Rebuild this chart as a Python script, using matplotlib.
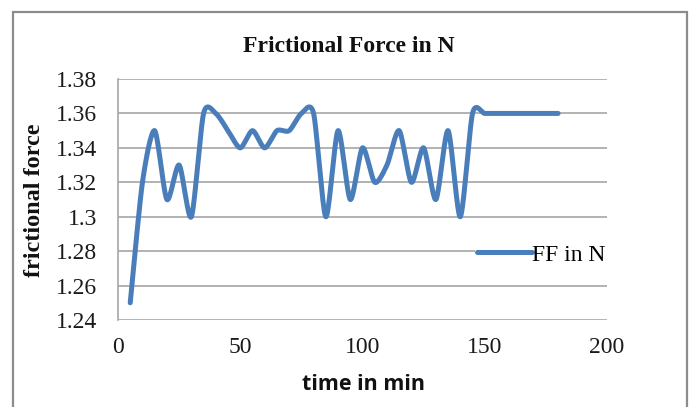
import numpy as np
import matplotlib
matplotlib.use("Agg")
import matplotlib.pyplot as plt
from matplotlib.patches import Rectangle

# Frictional force readings, one every 5 minutes
time_min = [5, 10, 15, 20, 25, 30, 35, 40, 45, 50, 55, 60, 65, 70, 75, 80, 85, 90,
            95, 100, 105, 110, 115, 120, 125, 130, 135, 140, 145, 150, 155, 160,
            165, 170, 175, 180]
ff_n = [1.25, 1.32, 1.35, 1.31, 1.33, 1.30, 1.36, 1.36, 1.35, 1.34, 1.35, 1.34,
        1.35, 1.35, 1.36, 1.36, 1.30, 1.35, 1.31, 1.34, 1.32, 1.33, 1.35, 1.32,
        1.34, 1.31, 1.35, 1.30, 1.36, 1.36, 1.36, 1.36, 1.36, 1.36, 1.36, 1.36]
x_ticks = [0, 50, 100, 150, 200]
y_ticks = [1.24, 1.26, 1.28, 1.30, 1.32, 1.34, 1.36, 1.38]
y_tick_labels = ["1.24", "1.26", "1.28", "1.3", "1.32", "1.34", "1.36", "1.38"]


def smooth_curve(x, y, k=0.13, n=40):
    """Cubic Bezier smoothing through every point (cardinal-spline tangents)."""
    x = np.asarray(x, float)
    y = np.asarray(y, float)
    px = np.concatenate([[x[0]], x, [x[-1]]])
    py = np.concatenate([[y[0]], y, [y[-1]]])
    t = np.linspace(0, 1, n)[:, None]
    xs, ys = [], []
    for i in range(len(x) - 1):
        p0 = np.array([px[i + 1], py[i + 1]])
        p3 = np.array([px[i + 2], py[i + 2]])
        p1 = p0 + (p3 - np.array([px[i], py[i]])) * k
        p2 = p3 - (np.array([px[i + 3], py[i + 3]]) - p0) * k
        b = ((1 - t) ** 3) * p0 + 3 * ((1 - t) ** 2) * t * p1 \
            + 3 * (1 - t) * t ** 2 * p2 + t ** 3 * p3
        xs.append(b[:, 0])
        ys.append(b[:, 1])
    return np.concatenate(xs), np.concatenate(ys)


W, H = 691, 407
fig = plt.figure(figsize=(W / 100, H / 100), dpi=100)

# outer chart frame
fig.patches.append(Rectangle((13 / W, -0.05), (687 - 13) / W, (H - 12) / H + 0.05,
                             transform=fig.transFigure, fill=False,
                             edgecolor="#8c8c8c", linewidth=1.6))

ax = fig.add_axes([118 / W, (H - 320) / H, (607 - 118) / W, (320 - 79) / H])
ax.set_xlim(0, 200)
ax.set_ylim(1.24, 1.38)

grid_col = "#a6a6a6"
for yv in y_ticks:
    ax.axhline(yv, color=grid_col, linewidth=1.2, zorder=1)
for s in ["top", "right", "bottom"]:
    ax.spines[s].set_visible(False)
ax.spines["left"].set_color(grid_col)
ax.spines["left"].set_linewidth(1.2)

sx, sy = smooth_curve(time_min, ff_n)
ax.plot(sx, sy, color="#4a7ebb", linewidth=3.6, solid_capstyle="round",
        label="FF in N", zorder=3)

serif = "Liberation Serif"
ax.set_xticks(x_ticks)
ax.set_xticklabels([str(v) for v in x_ticks], fontfamily=serif, fontsize=17)
ax.set_yticks(y_ticks)
ax.set_yticklabels(y_tick_labels, fontfamily=serif, fontsize=17)
ax.tick_params(axis="both", length=0, colors="#1a1a1a")
ax.tick_params(axis="x", pad=12)
ax.tick_params(axis="y", pad=15)

fig.text(349 / W, 1 - 47 / H, "Frictional Force in N", ha="center", va="center",
         fontfamily=serif, fontweight="bold", fontsize=17, color="#111111")
fig.text(35 / W, 1 - 200 / H, "frictional force", ha="center", va="center",
         rotation=90, fontfamily=serif, fontweight="bold", fontsize=17.5,
         color="#111111")
fig.text(363 / W, 1 - 384 / H, "time in min", ha="center", va="center",
         fontfamily="Open Sans", fontweight="bold", fontsize=15.5, color="#111111")

leg = ax.legend(loc="center left", bbox_to_anchor=(0.73, 0.27), frameon=True,
                prop={"family": serif, "size": 17}, handlelength=2.3,
                handletextpad=0.0, borderpad=0.1, borderaxespad=0)
leg.get_frame().set_facecolor("white")
leg.get_frame().set_edgecolor("none")
leg.get_frame().set_alpha(1)

fig.savefig("out.png", dpi=100)
